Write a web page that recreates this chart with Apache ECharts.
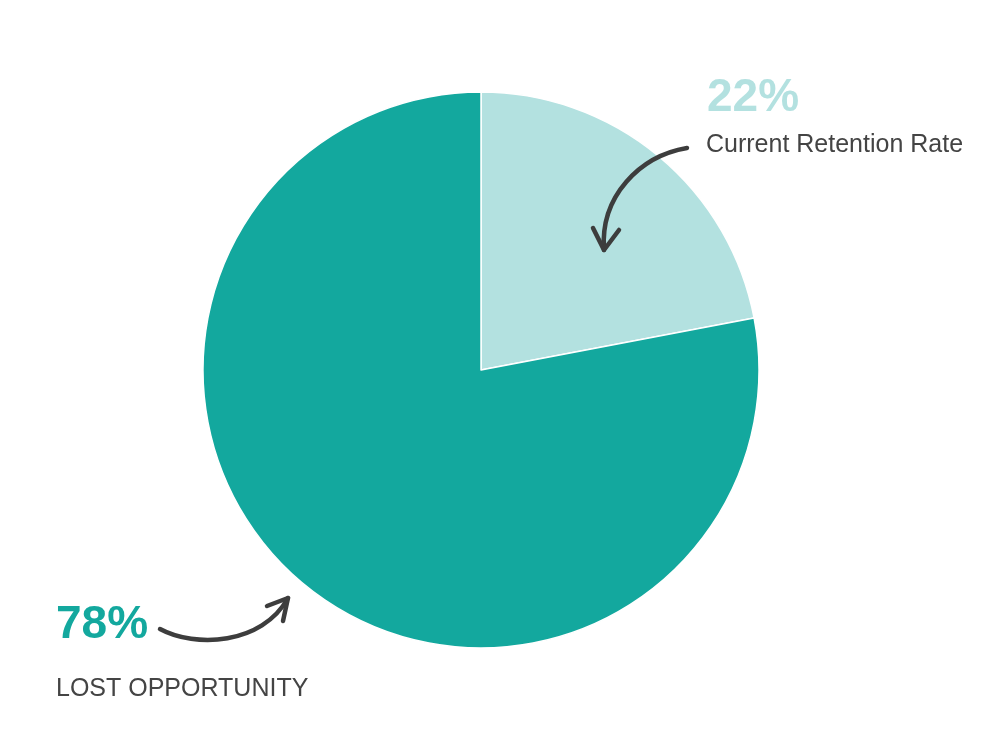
<!DOCTYPE html>
<html lang="en">
<head>
    <meta charset="UTF-8">
    <title>Retention Rate</title>
    <script src="https://cdn.jsdelivr.net/npm/echarts@6/dist/echarts.min.js"></script>
    <style>
        html, body {margin: 0; padding: 0; background: #fff;}
        #chartmain {width: 1000px; height: 750px;}
    </style>
</head>
<body>
<div id="chartmain"></div>
<script>
    // data
    var names = ['Current Retention Rate', 'LOST OPPORTUNITY'];
    var values = [22, 78];
    var colors = ['#b3e1e0', '#13a89e'];

    var pieData = names.map(function (n, i) {
        return {name: n, value: values[i], itemStyle: {color: colors[i]}};
    });

    var arrowStyle = {stroke: '#3d3d3d', lineWidth: 4.5, fill: null, lineCap: 'round', lineJoin: 'round'};

    var myChart = echarts.init(document.getElementById('chartmain'));
    var option = {
        backgroundColor: '#fff',
        animation: false,
        series: [{
            type: 'pie',
            z: 1,
            center: [481, 370],
            radius: 278,
            startAngle: 90,
            clockwise: true,
            label: {show: false},
            labelLine: {show: false},
            itemStyle: {borderColor: '#fff', borderWidth: 1.5},
            data: pieData
        }],
        graphic: {
            elements: [
                // callout texts
                {type: 'text', z: 100, left: 707, top: 75, style: {
                    text: values[0] + '%', font: 'bold 46px "Liberation Sans", Arial, sans-serif', fill: colors[0]}},
                {type: 'text', z: 100, left: 706, top: 133, style: {
                    text: names[0], font: '25px "Liberation Sans", Arial, sans-serif', fill: '#444'}},
                {type: 'text', z: 100, left: 56, top: 602, style: {
                    text: values[1] + '%', font: 'bold 46px "Liberation Sans", Arial, sans-serif', fill: colors[1]}},
                {type: 'text', z: 100, left: 56, top: 677, style: {
                    text: names[1], font: '25px "Liberation Sans", Arial, sans-serif', fill: '#444'}},
                // arrow to the light slice
                {type: 'bezierCurve', z: 100, shape: {x1: 687, y1: 148, x2: 604, y2: 250, cpx1: 640, cpy1: 156, cpx2: 600, cpy2: 196},
                    style: arrowStyle},
                {type: 'polyline', z: 100, shape: {points: [[593, 228], [604, 250], [619, 230]]},
                    style: arrowStyle},
                // arrow to the dark slice
                {type: 'bezierCurve', z: 100, shape: {x1: 160, y1: 629, x2: 288, y2: 598, cpx1: 195, cpy1: 648, cpx2: 262, cpy2: 645},
                    style: arrowStyle},
                {type: 'polyline', z: 100, shape: {points: [[267, 606], [288, 598], [283, 621]]},
                    style: arrowStyle}
            ]
        }
    };
    myChart.setOption(option);
</script>
</body>
</html>
